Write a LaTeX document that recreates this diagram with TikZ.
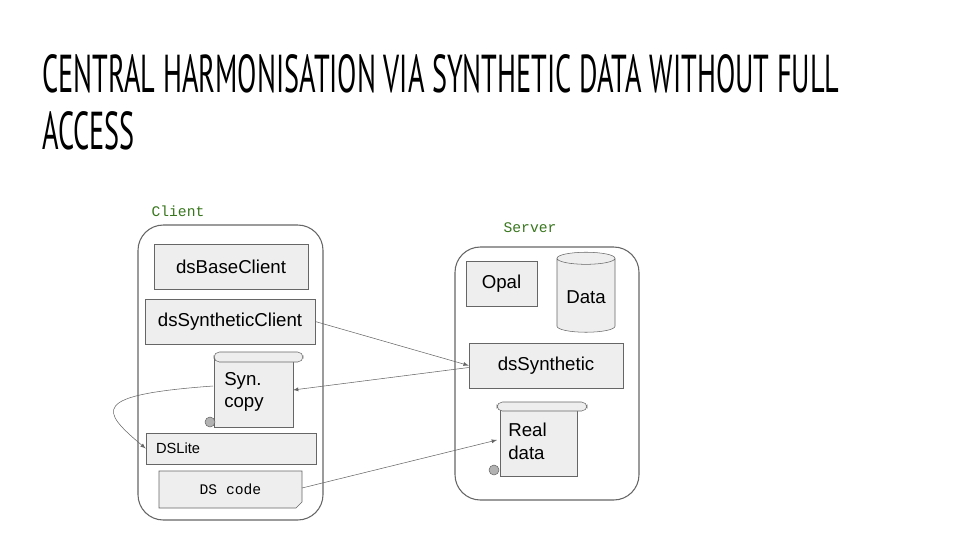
\documentclass[tikz,border=0pt]{standalone}
\usepackage{fontspec}
\setmainfont{Liberation Sans}
\newfontfamily\titlefont{PT Sans}
\newfontfamily\monofont{Liberation Mono}
\usetikzlibrary{shapes,arrows}
\definecolor{boxfill}{HTML}{EEEEEE}
\definecolor{boxline}{HTML}{666666}
\definecolor{labgreen}{HTML}{38761D}
\tikzstyle{block} = [rectangle, draw=boxline, fill=boxfill, text centered, inner sep=0, font=\fontsize{14}{17}\selectfont]
\tikzstyle{group} = [draw=boxline, rounded corners=19pt, thick]
\tikzstyle{tag} = [text=labgreen, font=\monofont\fontsize{11}{13}\selectfont]
\tikzstyle{line} = [draw=boxline, -latex]
\tikzstyle{heading} = [anchor=base west, inner sep=0, font=\titlefont\fontsize{40}{48}\selectfont]

\begin{document}
\begin{tikzpicture}[x=0.75pt, y=-0.75pt]
\useasboundingbox (0,0) rectangle (960,540);

% title
\node [heading] (title) at (42,92) {\scalebox{0.53}[1]{CENTRAL HARMONISATION VIA SYNTHETIC DATA WITHOUT FULL}};
\node [heading] (title2) at (42,149) {\scalebox{0.53}[1]{ACCESS}};

% client
\node [tag] (clientlabel) at (178,211) {Client};
\draw [group] (138,225) rectangle (323,520);
\node [block, minimum width=154*0.75pt, minimum height=45*0.75pt] (base) at (231,266.5) {dsBaseClient};
\node [block, minimum width=170*0.75pt, minimum height=45*0.75pt] (synclient) at (230,321.5) {dsSyntheticClient};
\fill [boxfill, draw=boxline] (214,357) rectangle (293,427);
\draw [boxline, fill=boxfill, rounded corners=4pt] (214,352) rectangle (303,362);
\fill [gray!60, draw=boxline] (210,422) circle (5*0.75pt);
\node [anchor=north west, align=left, inner sep=0, font=\fontsize{14}{17}\selectfont] (syncopy) at (224,372) {Syn.\\copy};
\coordinate (synR) at (293,390);
\coordinate (synL) at (213,386);
\node [block, minimum width=170*0.75pt, minimum height=31*0.75pt, text width=150*0.75pt, align=left, font=\fontsize{11}{13}\selectfont] (dslite) at (231,448.5) {DSLite};
\draw [boxline, fill=boxfill] (159,471) -- (302,471) -- (302,502) -- (296,508) -- (159,508) -- cycle;
\node [font=\monofont\fontsize{11}{13}\selectfont] (dscode) at (230.5,489) {DS code};
\coordinate (dscodeR) at (302,488);

% server
\node [tag] (serverlabel) at (530,228) {Server};
\draw [group] (455,247) rectangle (639,500);
\node [block, minimum width=71*0.75pt, minimum height=45*0.75pt] (opal) at (501.5,283.5) {Opal};
\node [cylinder, shape border rotate=90, aspect=0.25, draw=boxline, fill=boxfill, minimum width=58*0.75pt, minimum height=80*0.75pt, font=\fontsize{14}{17}\selectfont] (data) at (586,297) {Data};
\node [block, minimum width=154*0.75pt, minimum height=45*0.75pt] (synthetic) at (546,365.5) {dsSynthetic};
\fill [boxfill, draw=boxline] (500,407) rectangle (577,476);
\draw [boxline, fill=boxfill, rounded corners=4pt] (497,402) rectangle (587,411);
\fill [gray!60, draw=boxline] (494,470) circle (5*0.75pt);
\node [anchor=north west, align=left, inner sep=0, font=\fontsize{14}{17}\selectfont] (realdata) at (508,423) {Real\\data};
\coordinate (realL) at (497,440);

% connectors
\path [line] (synclient.east) -- (synthetic.west);
\path [line] ([yshift=-2*0.75pt]synthetic.west) -- (synR);
\path [line] (synL) .. controls (90,395) and (100,410) .. (dslite.west);
\path [line] (dscodeR) -- (realL);

\end{tikzpicture}
\end{document}
